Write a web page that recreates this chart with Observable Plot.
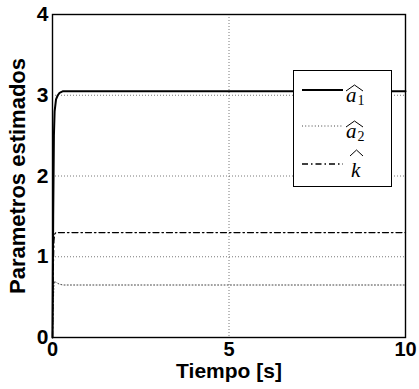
<!DOCTYPE html>
<html>
<head>
<meta charset="utf-8">
<script src="https://cdn.jsdelivr.net/npm/d3@7"></script>
<script src="https://cdn.jsdelivr.net/npm/@observablehq/plot@0.6"></script>
<style>
  html, body { margin: 0; padding: 0; background: #fff; }
  #wrap { position: relative; width: 419px; height: 389px; }
  #legend { position: absolute; left: 293px; top: 70px; width: 99px; height: 117px;
            box-sizing: border-box; border: 1px solid #000; background: #fff; }
</style>
</head>
<body>
<div id="wrap"></div>
<script>
// Time samples and estimated parameters
const tA1 = [0, 0.02, 0.04, 0.06, 0.1, 0.15, 0.2, 0.3, 10];
const a1  = [0, 1.5, 2.5, 2.8, 2.95, 3.0, 3.03, 3.05, 3.05];
const tA2 = [0, 0.02, 0.04, 0.06, 0.1, 0.2, 0.3, 10];
const a2  = [0, 0.4, 0.65, 0.7, 0.68, 0.66, 0.65, 0.65];
const tK  = [0, 0.02, 0.04, 0.06, 0.1, 10];
const k   = [0, 0.8, 1.2, 1.28, 1.3, 1.3];

const xTicks = [0, 5, 10];
const yTicks = [0, 1, 2, 3, 4];
const xGrid = [5];
const yGrid = [1, 2, 3];
const xLabel = "Tiempo [s]";
const yLabel = "Parametros estimados";

const s1 = tA1.map((t, i) => ({t, v: a1[i]}));
const s2 = tA2.map((t, i) => ({t, v: a2[i]}));
const s3 = tK.map((t, i) => ({t, v: k[i]}));

const chart = Plot.plot({
  width: 419,
  height: 389,
  marginLeft: 52,
  marginRight: 14,
  marginTop: 14,
  marginBottom: 52,
  style: {background: "#fff", color: "#000"},
  x: {domain: [0, 10]},
  y: {domain: [0, 4]},
  marks: [
    Plot.gridX(xGrid, {stroke: "#555", strokeOpacity: 1, strokeWidth: 0.8, strokeDasharray: "1,2"}),
    Plot.gridY(yGrid, {stroke: "#555", strokeOpacity: 1, strokeWidth: 0.8, strokeDasharray: "1,2"}),
    Plot.line(s2, {x: "t", y: "v", stroke: "#444", strokeWidth: 1, strokeDasharray: "1,2.2"}),
    Plot.line(s3, {x: "t", y: "v", stroke: "#000", strokeWidth: 1.3, strokeDasharray: "6,3,1.5,3"}),
    Plot.line(s1, {x: "t", y: "v", stroke: "#000", strokeWidth: 2}),
    Plot.frame({stroke: "#000", strokeWidth: 1.4}),
    Plot.axisX(xTicks, {tickSize: 0, tickPadding: 4, label: null, tickFormat: d => String(d),
      fontSize: 20, fontWeight: "bold"}),
    Plot.axisY(yTicks, {tickSize: 0, tickPadding: 4, label: null, tickFormat: d => String(d),
      fontSize: 21, fontWeight: "bold"}),
    Plot.text([xLabel], {frameAnchor: "bottom", dy: 40, fontSize: 21, fontWeight: "bold",
      textAnchor: "middle"}),
    Plot.text([yLabel], {frameAnchor: "left", dx: -35, rotate: -90, fontSize: 22, fontWeight: "bold",
      textAnchor: "middle"})
  ]
});
chart.style.fontFamily = "'Liberation Sans', Arial, sans-serif";
const wrap = document.getElementById("wrap");
wrap.appendChild(chart);

// Legend
const legendItems = [
  {name: "a", sub: "1", dash: null, width: 2, stroke: "#000"},
  {name: "a", sub: "2", dash: "1,2.2", width: 1, stroke: "#444"},
  {name: "k", sub: "", dash: "6,3,1.5,3", width: 1.3, stroke: "#000"}
];
const lg = document.createElement("div");
lg.id = "legend";
const ns = "http://www.w3.org/2000/svg";
const svg = document.createElementNS(ns, "svg");
svg.setAttribute("width", 97);
svg.setAttribute("height", 115);
const rowY = [19, 55, 93];
legendItems.forEach((d, i) => {
  const y = rowY[i];
  const isK = d.name === "k";
  const ln = document.createElementNS(ns, "line");
  ln.setAttribute("x1", 8); ln.setAttribute("x2", 49);
  ln.setAttribute("y1", y); ln.setAttribute("y2", y);
  ln.setAttribute("stroke", d.stroke);
  ln.setAttribute("stroke-width", d.width);
  if (d.dash) ln.setAttribute("stroke-dasharray", d.dash);
  svg.appendChild(ln);
  const tx = document.createElementNS(ns, "text");
  tx.setAttribute("x", isK ? 57 : 52);
  tx.setAttribute("y", y + (isK ? 13 : 12));
  tx.setAttribute("font-family", "'Liberation Serif', 'DejaVu Serif', serif");
  tx.setAttribute("font-size", 21);
  const ts = document.createElementNS(ns, "tspan");
  ts.setAttribute("font-style", "italic");
  ts.textContent = d.name;
  tx.appendChild(ts);
  if (d.sub) {
    const sb = document.createElementNS(ns, "tspan");
    sb.setAttribute("font-size", 14);
    sb.setAttribute("dy", 3);
    sb.setAttribute("dx", 1);
    sb.textContent = d.sub;
    tx.appendChild(sb);
  }
  svg.appendChild(tx);
  // wide hat accent above the symbol
  const top = isK ? y - 14 : y - 5;
  const x0 = isK ? 56 : 52, x1 = 69;
  const hat = document.createElementNS(ns, "path");
  hat.setAttribute("d", `M${x0},${top + 6} L${(x0 + x1) / 2},${top} L${x1},${top + 6}`);
  hat.setAttribute("fill", "none");
  hat.setAttribute("stroke", "#000");
  hat.setAttribute("stroke-width", 1);
  svg.appendChild(hat);
});
lg.appendChild(svg);
wrap.appendChild(lg);
</script>
</body>
</html>
